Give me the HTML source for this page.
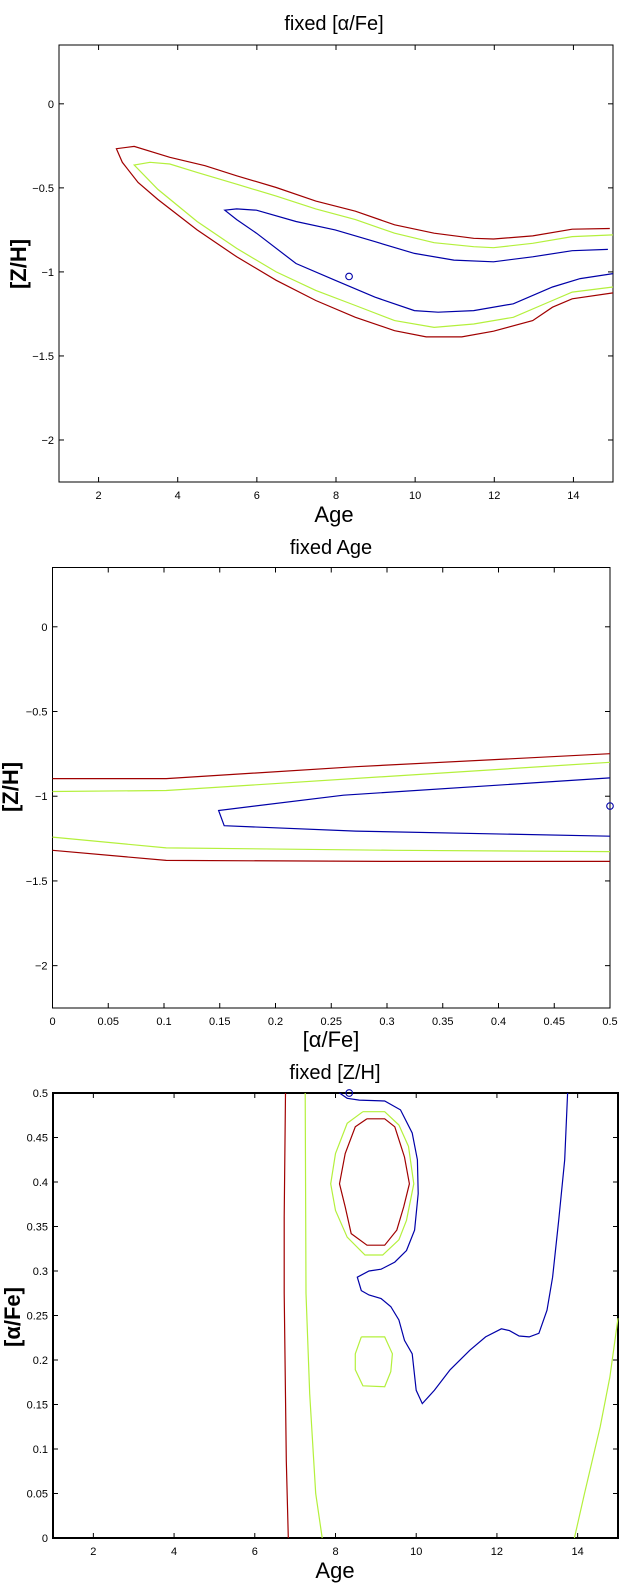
<!DOCTYPE html>
<html><head><meta charset="utf-8"><style>
body{margin:0;background:#fff;}
svg{display:block;font-family:"Liberation Sans",sans-serif;}
</style></head><body>
<svg id="s" width="619" height="1583" viewBox="0 0 619 1583"></svg>
<script>
// Panel 1 data: Age vs [Z/H], fixed [alpha/Fe]
const p1Red=[[14.92,-0.742],[13.97,-0.746],[12.97,-0.786],[11.98,-0.804],[11.48,-0.80],[10.48,-0.77],[9.48,-0.72],[8.49,-0.639],[7.49,-0.579],[6.49,-0.498],[5.49,-0.428],[4.69,-0.368],[3.8,-0.318],[2.9,-0.253],[2.45,-0.267],[2.6,-0.348],[3.0,-0.468],[3.5,-0.569],[4.49,-0.75],[5.49,-0.91],[6.49,-1.05],[7.49,-1.17],[8.49,-1.27],[9.48,-1.35],[10.28,-1.387],[11.18,-1.387],[11.98,-1.353],[12.97,-1.29],[13.47,-1.21],[13.97,-1.16],[15,-1.125]];
const p1Green=[[15,-0.78],[13.97,-0.79],[12.97,-0.83],[11.98,-0.856],[11.48,-0.85],[10.48,-0.826],[9.48,-0.77],[8.49,-0.689],[7.49,-0.625],[6.49,-0.549],[5.49,-0.478],[4.49,-0.408],[3.8,-0.358],[3.3,-0.348],[2.9,-0.364],[3.5,-0.509],[4.49,-0.70],[5.49,-0.86],[6.49,-1.0],[7.49,-1.11],[8.49,-1.20],[9.48,-1.29],[10.48,-1.33],[11.48,-1.31],[12.48,-1.27],[13.47,-1.17],[13.97,-1.12],[15,-1.09]];
const p1Blue=[[14.87,-0.866],[13.97,-0.874],[12.97,-0.91],[11.98,-0.94],[10.98,-0.93],[9.98,-0.89],[8.98,-0.82],[7.98,-0.75],[6.99,-0.70],[5.99,-0.633],[5.49,-0.625],[5.19,-0.633],[5.49,-0.689],[5.99,-0.77],[6.99,-0.95],[7.98,-1.05],[8.98,-1.15],[9.98,-1.23],[10.58,-1.24],[11.48,-1.23],[12.48,-1.19],[13.47,-1.09],[14.17,-1.04],[15,-1.01]];
const p1Best=[8.33,-1.027];
// Panel 2 data: [alpha/Fe] vs [Z/H], fixed Age
const p2RedTop=[[0,-0.896],[0.102,-0.896],[0.272,-0.826],[0.5,-0.749]];
const p2RedBot=[[0,-1.319],[0.102,-1.379],[0.307,-1.385],[0.5,-1.385]];
const p2GreenTop=[[0,-0.972],[0.102,-0.966],[0.5,-0.80]];
const p2GreenBot=[[0,-1.241],[0.102,-1.305],[0.307,-1.319],[0.5,-1.327]];
const p2Blue=[[0.5,-0.892],[0.261,-0.994],[0.149,-1.084],[0.154,-1.174],[0.272,-1.206],[0.5,-1.236]];
const p2Best=[0.5,-1.058];
// Panel 3 data: Age vs [alpha/Fe], fixed [Z/H]
const p3RedLine=[[6.76,0.5],[6.73,0.361],[6.73,0.275],[6.78,0.087],[6.83,0]];
const p3GreenLeft=[[7.25,0.5],[7.27,0.275],[7.36,0.162],[7.51,0.05],[7.67,0]];
const p3GreenRight=[[13.92,0],[14.17,0.05],[14.56,0.125],[14.8,0.181],[15,0.247]];
const p3RedLoop=[[8.78,0.471],[9.22,0.471],[9.47,0.462],[9.71,0.428],[9.83,0.398],[9.69,0.372],[9.52,0.346],[9.22,0.329],[8.78,0.329],[8.39,0.342],[8.24,0.372],[8.1,0.398],[8.24,0.432],[8.49,0.462],[8.78,0.471]];
const p3GreenLoop=[[8.68,0.479],[9.22,0.479],[9.57,0.464],[9.81,0.44],[9.94,0.398],[9.76,0.357],[9.57,0.335],[9.17,0.318],[8.73,0.318],[8.29,0.338],[8.0,0.368],[7.88,0.398],[8.0,0.432],[8.29,0.466],[8.68,0.479]];
const p3GreenSmall=[[8.64,0.226],[9.22,0.226],[9.41,0.207],[9.37,0.187],[9.22,0.17],[8.68,0.171],[8.49,0.189],[8.49,0.207],[8.64,0.226]];
const p3Blue=[[8.1,0.5],[8.29,0.494],[8.59,0.492],[9.22,0.491],[9.61,0.481],[9.9,0.455],[10.03,0.425],[10.05,0.387],[9.96,0.346],[9.76,0.323],[9.47,0.31],[9.13,0.302],[8.83,0.30],[8.54,0.293],[8.64,0.278],[8.83,0.273],[9.13,0.269],[9.37,0.26],[9.57,0.245],[9.71,0.222],[9.9,0.207],[10.0,0.166],[10.15,0.151],[10.45,0.166],[10.84,0.189],[11.33,0.211],[11.72,0.226],[12.11,0.235],[12.31,0.233],[12.55,0.227],[12.8,0.226],[13.04,0.23],[13.24,0.256],[13.38,0.293],[13.53,0.357],[13.68,0.425],[13.75,0.5]];
const p3Best=[8.34,0.5];
const ageTicks=[2,4,6,8,10,12,14];
const zhTicks=[0,-0.5,-1,-1.5,-2];
const zhTickLabels=["0","\u22120.5","\u22121","\u22121.5","\u22122"];
const afeTicks=[0,0.05,0.1,0.15,0.2,0.25,0.3,0.35,0.4,0.45,0.5];
const afeTickLabels=["0","0.05","0.1","0.15","0.2","0.25","0.3","0.35","0.4","0.45","0.5"];

const RED="#a00000",GREEN="#b4f03c",BLUE="#0000a8";
const svg=document.getElementById('s');
const NS="http://www.w3.org/2000/svg";
function mk(tag,attrs,parent){const e=document.createElementNS(NS,tag);for(const k in attrs)e.setAttribute(k,attrs[k]);(parent||svg).appendChild(e);return e;}

function panel(cfg){
  const g=mk('g',{});
  
  
  const sx=v=>cfg.L+(v-cfg.x0)/(cfg.x1-cfg.x0)*(cfg.R-cfg.L);
  const sy=v=>cfg.B-(v-cfg.y0)/(cfg.y1-cfg.y0)*(cfg.B-cfg.T);
  const box=mk('rect',{x:cfg.L,y:cfg.T,width:cfg.R-cfg.L,height:cfg.B-cfg.T,fill:'none',stroke:'#000','stroke-width':cfg.sw||1},g);
  
  
  cfg.xt.forEach((v,i)=>{
    const x=sx(v);
    mk('line',{x1:x,x2:x,y1:cfg.B,y2:cfg.B-5,stroke:'#000'},g);
    mk('line',{x1:x,x2:x,y1:cfg.T,y2:cfg.T+5,stroke:'#000'},g);
    const t=mk('text',{x:x,y:cfg.B+17,'font-size':11,'text-anchor':'middle'},g);
    t.textContent=cfg.xl[i];
    
    
  });
  cfg.yt.forEach((v,i)=>{
    const y=sy(v);
    mk('line',{x1:cfg.L,x2:cfg.L+5,y1:y,y2:y,stroke:'#000'},g);
    mk('line',{x1:cfg.R,x2:cfg.R-5,y1:y,y2:y,stroke:'#000'},g);
    const t=mk('text',{x:cfg.L-5,y:y+4,'font-size':11,'text-anchor':'end'},g);
    t.textContent=cfg.yl[i];
    
    
  });
  cfg.lines.forEach(l=>{
    const p=mk('polyline',{points:l.d.map(q=>sx(q[0]).toFixed(1)+','+sy(q[1]).toFixed(1)).join(' '),fill:'none',stroke:l.c,'stroke-width':1.2},g);
    
    
  });
  const m=mk('circle',{cx:sx(cfg.best[0]),cy:sy(cfg.best[1]),r:3.3,fill:'none',stroke:BLUE,'stroke-width':1.1},g);
  
  
  const ti=mk('text',{x:cfg.tx,y:cfg.ty,'font-size':20,'text-anchor':'middle'},g);
  ti.textContent=cfg.title;
  
  
  const xl=mk('text',{x:cfg.tx,y:cfg.xly,'font-size':22,'text-anchor':'middle'},g);
  xl.textContent=cfg.xlabel;
  
  
  const yl=mk('text',{x:0,y:0,'font-size':22,'font-weight':'bold','text-anchor':'middle',transform:`translate(${cfg.ylx},${cfg.yly}) rotate(-90)`},g);
  yl.textContent=cfg.ylabel;
  
  
}

panel({name:'panel-fixed-afe',L:59,R:613,T:45,B:482,x0:1,x1:15,y0:-2.25,y1:0.35,xt:ageTicks,xl:ageTicks.map(String),yt:zhTicks,yl:zhTickLabels,
  lines:[{d:p1Red,c:RED,n:'contour-red'},{d:p1Green,c:GREEN,n:'contour-green'},{d:p1Blue,c:BLUE,n:'contour-blue'}],best:p1Best,
  title:'fixed [\u03b1/Fe]',tx:334,ty:30,xlabel:'Age',xly:522,ylabel:'[Z/H]',ylx:26,yly:264});
panel({name:'panel-fixed-age',L:52.5,R:610,T:567.5,B:1008,x0:0,x1:0.5,y0:-2.25,y1:0.35,xt:afeTicks,xl:afeTickLabels,yt:zhTicks,yl:zhTickLabels,
  lines:[{d:p2RedTop,c:RED,n:'contour-red-top'},{d:p2RedBot,c:RED,n:'contour-red-bottom'},{d:p2GreenTop,c:GREEN,n:'contour-green-top'},{d:p2GreenBot,c:GREEN,n:'contour-green-bottom'},{d:p2Blue,c:BLUE,n:'contour-blue'}],best:p2Best,
  title:'fixed Age',tx:331,ty:554,xlabel:'[\u03b1/Fe]',xly:1047,ylabel:'[Z/H]',ylx:18,yly:787});
panel({name:'panel-fixed-zh',L:53,R:618,T:1093,B:1538,x0:1,x1:15,y0:0,y1:0.5,sw:2,xt:ageTicks,xl:ageTicks.map(String),yt:afeTicks,yl:afeTickLabels,
  lines:[{d:p3RedLine,c:RED,n:'contour-red-line'},{d:p3GreenLeft,c:GREEN,n:'contour-green-left'},{d:p3GreenRight,c:GREEN,n:'contour-green-right'},{d:p3RedLoop,c:RED,n:'contour-red-loop'},{d:p3GreenLoop,c:GREEN,n:'contour-green-loop'},{d:p3GreenSmall,c:GREEN,n:'contour-green-small'},{d:p3Blue,c:BLUE,n:'contour-blue'}],best:p3Best,
  title:'fixed [Z/H]',tx:335,ty:1079,xlabel:'Age',xly:1578,ylabel:'[\u03b1/Fe]',ylx:20,yly:1317});
</script>
</body></html>
